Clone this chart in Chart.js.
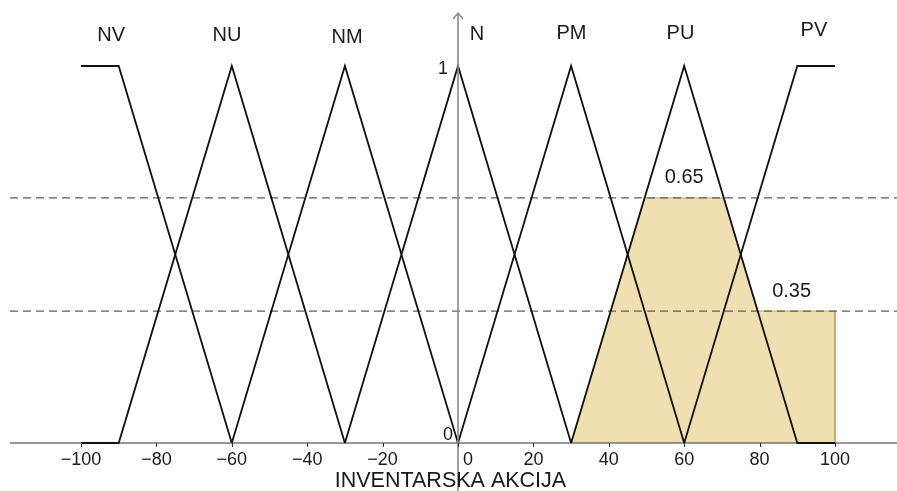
<!DOCTYPE html>
<html>
<head>
<meta charset="utf-8">
<script src="https://cdn.jsdelivr.net/npm/chart.js@4.4.1/dist/chart.umd.min.js"></script>
<style>
html,body{margin:0;padding:0;background:#fff;overflow:hidden;}
canvas{display:block;}
</style>
</head>
<body>
<canvas id="c" width="897" height="491"></canvas>
<script>
// ---- data ----
const setNames = ["NV", "NU", "NM", "N", "PM", "PU", "PV"];
const nvX = [-100, -90, -60];       const nvY = [1, 1, 0];
const nuX = [-100, -90, -60, -30];  const nuY = [0, 0, 1, 0];
const nmX = [-60, -30, 0];          const nmY = [0, 1, 0];
const nX  = [-30, 0, 30];           const nY  = [0, 1, 0];
const pmX = [0, 30, 60];            const pmY = [0, 1, 0];
const puX = [30, 60, 90, 100];      const puY = [0, 1, 0, 0];
const pvX = [60, 90, 100];          const pvY = [0, 1, 1];
const aggX = [30, 49.5, 70.5, 79.5, 100, 100];
const aggY = [0, 0.65, 0.65, 0.35, 0.35, 0];
const cutLevels = [0.65, 0.35];
const cutLabels = ["0.65", "0.35"];
const xTicks = [-100, -80, -60, -40, -20, 0, 20, 40, 60, 80, 100];
const xTickLabels = ["\u2212100", "\u221280", "\u221260", "\u221240", "\u221220", "0", "20", "40", "60", "80", "100"];
const xTitle = "INVENTARSKA AKCIJA";

// ---- layout / style ----
const X_MIN = -121.485, X_MAX = 116.446;
const Y_MIN = -0.12732, Y_MAX = 1.17507;
const AXIS_START = -118.83;
const ARROW_TOP = 1.1406;
const nameAnchorX = [-92, -61.3, -29.4, 5, 30.1, 59, 94.4];
const nameCenterY = [35, 35, 37, 34, 33, 33, 30];
const cutLabelX = [60, 88.5];
const FONT = '"Liberation Sans", Arial, sans-serif';

function pts(xs, ys) { return xs.map((x, i) => ({x: x, y: ys[i]})); }

const memberSets = [[nvX, nvY], [nuX, nuY], [nmX, nmY], [nX, nY], [pmX, pmY], [puX, puY], [pvX, pvY]];
const datasets = [];
memberSets.forEach((s, i) => {
  datasets.push({
    label: setNames[i], data: pts(s[0], s[1]),
    borderColor: '#111', borderWidth: 1.8, pointRadius: 0, fill: false, tension: 0, order: 1
  });
});
datasets.push({
  label: 'agg', data: pts(aggX, aggY),
  borderColor: 'rgba(190,160,80,0.9)', borderWidth: 1, backgroundColor: 'rgb(240,223,177)',
  pointRadius: 0, fill: 'origin', tension: 0, order: 10
});
cutLevels.forEach((c) => {
  datasets.push({
    label: 'cut' + c, data: [{x: AXIS_START, y: c}, {x: X_MAX, y: c}],
    borderColor: '#5e5e5e', borderWidth: 1.2, borderDash: [8, 5], pointRadius: 0, fill: false, order: 5
  });
});
datasets.push({
  label: 'xaxis', data: [{x: AXIS_START, y: 0}, {x: X_MAX, y: 0}],
  borderColor: '#333', borderWidth: 1, pointRadius: 0, fill: false, order: 8
});
datasets.push({
  label: 'yaxis', data: [{x: 0, y: Y_MIN}, {x: 0, y: ARROW_TOP}],
  borderColor: '#8a8a8a', borderWidth: 1.6, pointRadius: 0, fill: false, order: 0
});

const decor = {
  id: 'decor',
  afterDatasetsDraw(chart) {
    const ctx = chart.ctx;
    const xs = chart.scales.x, ys = chart.scales.y;
    ctx.save();
    // arrow head
    const ax = xs.getPixelForValue(0), ay = ys.getPixelForValue(ARROW_TOP);
    ctx.strokeStyle = '#8a8a8a'; ctx.lineWidth = 1.4;
    ctx.beginPath(); ctx.moveTo(ax - 5, ay + 6); ctx.lineTo(ax, ay); ctx.lineTo(ax + 5, ay + 6); ctx.stroke();
    // x ticks
    const y0 = ys.getPixelForValue(0);
    ctx.strokeStyle = '#333'; ctx.lineWidth = 1;
    xTicks.forEach((t) => {
      const px = Math.round(xs.getPixelForValue(t)) + 0.5;
      ctx.beginPath(); ctx.moveTo(px, y0); ctx.lineTo(px, y0 + 4); ctx.stroke();
    });
    ctx.fillStyle = '#1a1a1a';
    ctx.textAlign = 'center'; ctx.textBaseline = 'middle';
    ctx.font = '18px ' + FONT;
    xTicks.forEach((t, i) => {
      let px = xs.getPixelForValue(t);
      if (t === 0) px += 10;
      ctx.fillText(xTickLabels[i], px, y0 + 17);
    });
    // y labels
    ctx.textAlign = 'right';
    ctx.fillText('1', ax - 10, ys.getPixelForValue(1) + 3);
    ctx.fillText('0', ax - 5, y0 - 8);
    // title
    ctx.textAlign = 'center';
    ctx.font = '21.5px ' + FONT;
    ctx.fillText(xTitle, xs.getPixelForValue(-2), y0 + 38);
    // set names
    ctx.font = '20px ' + FONT;
    setNames.forEach((n, i) => {
      ctx.fillText(n, xs.getPixelForValue(nameAnchorX[i]), nameCenterY[i]);
    });
    // cut labels
    cutLevels.forEach((c, i) => {
      ctx.fillText(cutLabels[i], xs.getPixelForValue(cutLabelX[i]), ys.getPixelForValue(c) - 20);
    });
    ctx.restore();
  }
};

new Chart(document.getElementById('c'), {
  type: 'line',
  data: { datasets: datasets },
  options: {
    responsive: false, animation: false, devicePixelRatio: 1,
    layout: { padding: 0 },
    plugins: { legend: { display: false }, tooltip: { enabled: false } },
    scales: {
      x: { type: 'linear', min: X_MIN, max: X_MAX, display: false },
      y: { type: 'linear', min: Y_MIN, max: Y_MAX, display: false }
    },
    elements: { line: { borderCapStyle: 'butt', borderJoinStyle: 'miter' } }
  },
  plugins: [decor]
});
</script>
</body>
</html>
